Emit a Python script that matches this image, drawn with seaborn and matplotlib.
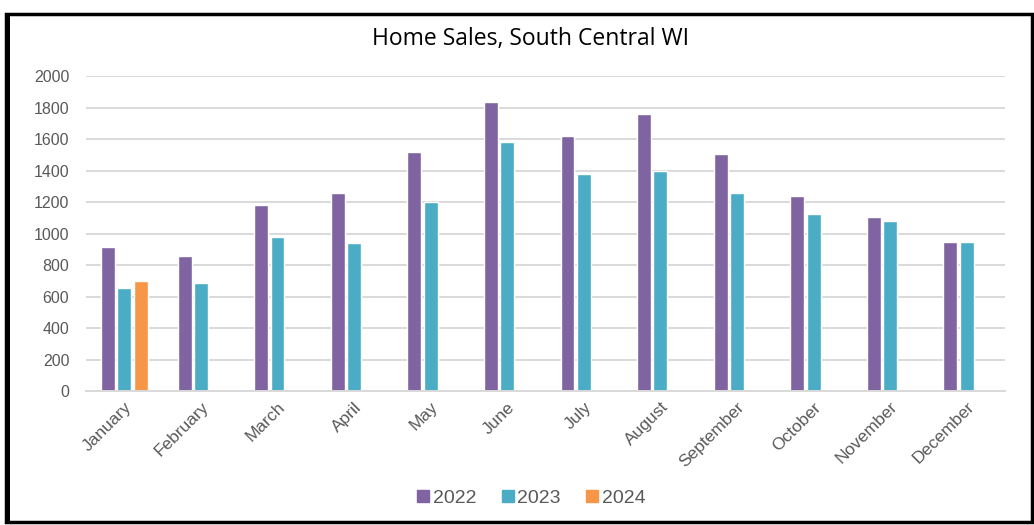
import seaborn as sns
import pandas as pd
import matplotlib.pyplot as plt
from matplotlib.patches import Rectangle
from matplotlib.lines import Line2D

months = ["January", "February", "March", "April", "May", "June",
          "July", "August", "September", "October", "November", "December"]
sales_2022 = [915, 860, 1180, 1260, 1515, 1832, 1620, 1757, 1502, 1238, 1103, 948]
sales_2023 = [652, 684, 980, 937, 1202, 1580, 1378, 1400, 1260, 1124, 1082, 948]
sales_2024 = [698, None, None, None, None, None, None, None, None, None, None, None]
years = ["2022", "2023", "2024"]
colors = ["#8064A2", "#4BACC6", "#F79646"]

rows = []
for yr, vals in zip(years, [sales_2022, sales_2023, sales_2024]):
    for m, v in zip(months, vals):
        rows.append({"month": m, "year": yr, "sales": v})
data = pd.DataFrame(rows)
data["sales"] = data["sales"].astype("float")

sns.set_style("white")
plt.rcParams["font.family"] = ["Liberation Sans", "DejaVu Sans"]

fig = plt.figure(figsize=(10.34, 5.25), dpi=100)
ax = fig.add_axes([0.0832, 0.2552, 0.8888, 0.6])

sns.barplot(data=data, x="month", y="sales", hue="year", order=months,
            hue_order=years, palette=colors, width=0.64, gap=0.15,
            saturation=1, ax=ax, legend=False)

ax.set_ylim(0, 2000)
ax.set_yticks(range(0, 2001, 200))
ax.set_xlim(-0.5, 11.5)
ax.yaxis.grid(True, color="#D9D9D9", lw=1.4)
ax.set_axisbelow(True)
for s in ["top", "right", "left"]:
    ax.spines[s].set_visible(False)
ax.spines["bottom"].set_color("#D9D9D9")
ax.spines["bottom"].set_linewidth(1.4)
ax.tick_params(axis="both", length=0, colors="#595959")
ax.tick_params(axis="y", pad=12, labelsize=11.5)
ax.tick_params(axis="x", pad=6, labelsize=12.5)
ax.set_xlabel("")
ax.set_ylabel("")
plt.setp(ax.get_xticklabels(), rotation=45, ha="right", rotation_mode="anchor")

fig.text(0.513, 0.925, "Home Sales, South Central WI", ha="center", va="center",
         fontsize=16.5, color="black", family=["Open Sans", "DejaVu Sans"])

handles = [Line2D([], [], marker="s", ls="", color=c, markersize=8) for c in colors]
fig.legend(handles, years, loc="center", bbox_to_anchor=(0.513, 0.052), ncol=3,
           frameon=False, fontsize=14, labelcolor="#595959", handletextpad=0.1,
           columnspacing=1.2, handlelength=0.8)

# sheet frame around the chart
fig.patches.append(Rectangle((0.006, 0.006), 0.992, 0.968, transform=fig.transFigure,
                             fill=False, edgecolor="black", lw=2.5))
fig.patches.append(Rectangle((0.006, 0.006), 0.004, 0.968, transform=fig.transFigure,
                             color="black", lw=0))

fig.savefig("out.png", dpi=100)
